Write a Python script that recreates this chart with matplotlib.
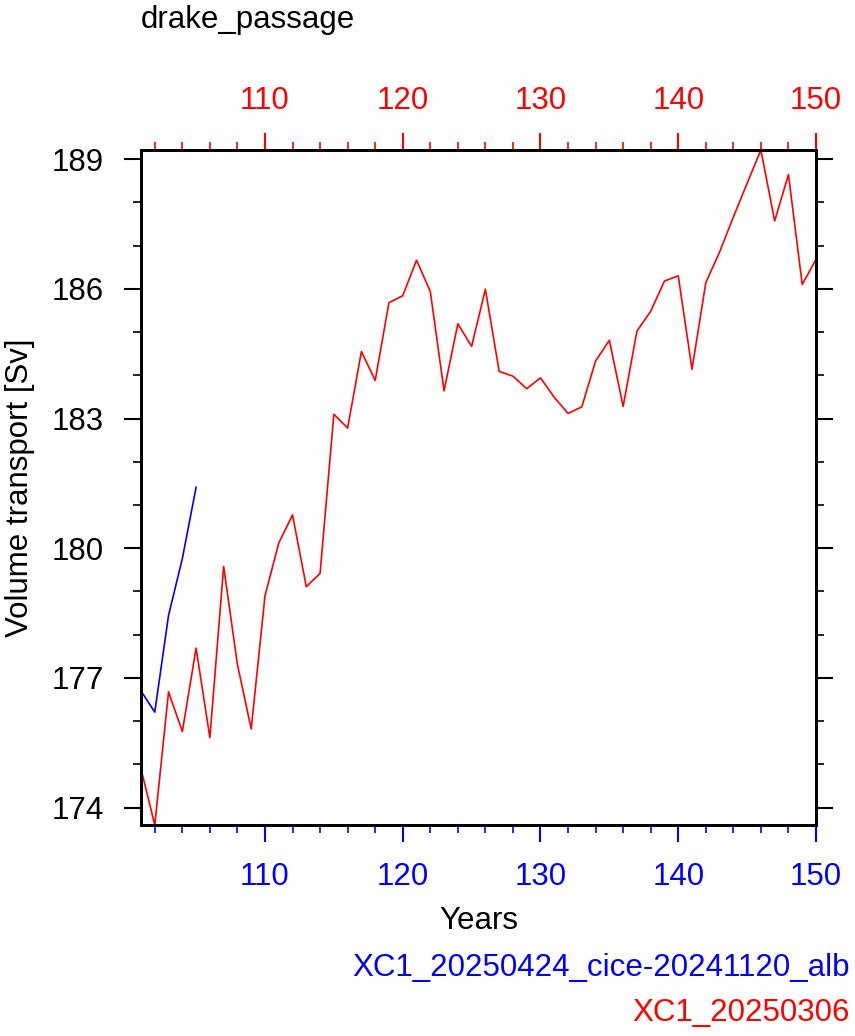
import matplotlib
matplotlib.use("Agg")
import matplotlib.pyplot as plt
from matplotlib.ticker import MultipleLocator

# data
years_red = list(range(101, 151))
transport_red = [174.90, 173.60, 176.68, 175.76, 177.69, 175.62, 179.58, 177.31, 175.82, 178.90,
                 180.12, 180.77, 179.11, 179.42, 183.10, 182.78, 184.55, 183.88, 185.68, 185.84,
                 186.66, 185.94, 183.64, 185.19, 184.67, 185.99, 184.09, 183.98, 183.69, 183.94,
                 183.49, 183.12, 183.27, 184.33, 184.81, 183.28, 185.02, 185.48, 186.18, 186.30,
                 184.14, 186.14, 186.85, 187.66, 188.44, 189.21, 187.57, 188.64, 186.10, 186.68]
years_blue = [101, 102, 103, 104, 105]
transport_blue = [176.70, 176.21, 178.45, 179.76, 181.41]

title = "drake_passage"
name_blue = "XC1_20250424_cice-20241120_alb"
name_red = "XC1_20250306"

plt.rcParams['font.family'] = ['Liberation Sans', 'DejaVu Sans']
fs = 22.5

fig = plt.figure(figsize=(8.55, 10.36), dpi=100)
ax = fig.add_axes([141 / 855, 1 - 825 / 1036, 675 / 855, 675 / 1036])

ax.plot(years_red, transport_red, color='red', lw=1.2)
ax.plot(years_blue, transport_blue, color='blue', lw=1.2)

ax.set_xlim(101, 150)
ymin = min(transport_red + transport_blue)
ymax = max(transport_red + transport_blue)
ax.set_ylim(ymin, ymax)

for s in ax.spines.values():
    s.set_linewidth(2.0)

# y axis (left + right ticks)
ax.yaxis.set_major_locator(MultipleLocator(3))
ax.yaxis.set_minor_locator(MultipleLocator(1))
ax.tick_params(axis='y', which='both', direction='out', left=True, right=True,
               labelright=False, colors='black', labelsize=fs)
ax.tick_params(axis='y', which='major', length=12.5, width=1.5, pad=14)
ax.tick_params(axis='y', which='minor', length=6, width=1.2)

# bottom x axis, blue
ax.xaxis.set_major_locator(MultipleLocator(10))
ax.xaxis.set_minor_locator(MultipleLocator(2))
ax.tick_params(axis='x', which='both', direction='out', colors='blue', labelsize=fs)
ax.tick_params(axis='x', which='major', length=12.5, width=1.5, pad=14)
ax.tick_params(axis='x', which='minor', length=6, width=1.2)

# top x axis, red
ax2 = ax.twiny()
ax2.set_xlim(ax.get_xlim())
ax2.xaxis.set_major_locator(MultipleLocator(10))
ax2.xaxis.set_minor_locator(MultipleLocator(2))
ax2.tick_params(axis='x', which='both', direction='out', colors='red', labelsize=fs)
ax2.tick_params(axis='x', which='major', length=12.5, width=1.5, pad=12)
ax2.tick_params(axis='x', which='minor', length=6, width=1.2)
for s in ax2.spines.values():
    s.set_linewidth(2.0)
    s.set_color('black')

ax.set_ylabel("Volume transport [Sv]", fontsize=fs, labelpad=12)
ax.set_xlabel("Years", fontsize=fs, labelpad=10)

fig.text(141 / 855, 1 - 20 / 1036, title, fontsize=fs, ha='left', va='center')
fig.text(850 / 855, 1 - 968 / 1036, name_blue, fontsize=fs, color='blue', ha='right', va='center')
fig.text(850 / 855, 1 - 1013 / 1036, name_red, fontsize=fs, color='red', ha='right', va='center')

fig.savefig("out.png", dpi=100)
